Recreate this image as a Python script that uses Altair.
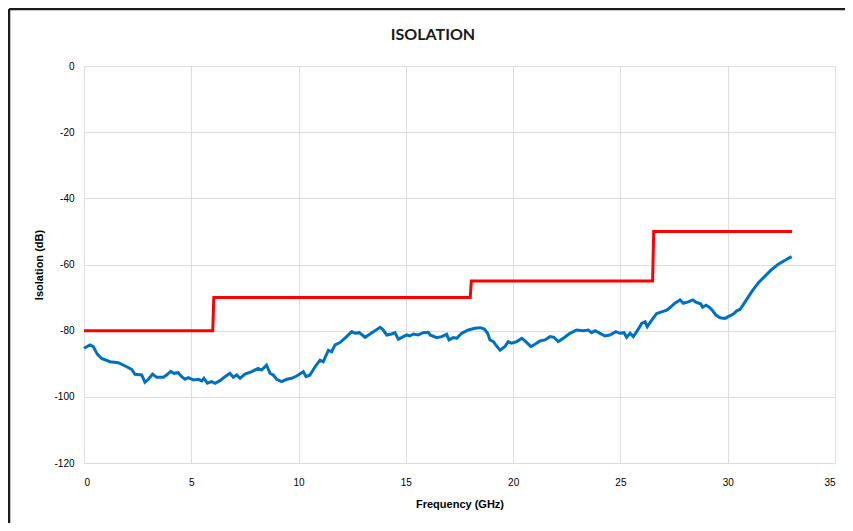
import altair as alt
import pandas as pd

# Measured isolation (blue trace)
freq = [0.00, 0.28, 0.43, 0.62, 0.82, 1.21, 1.60, 1.99, 2.22, 2.38, 2.69, 2.84, 3.00, 3.20, 3.39,
        3.70, 3.85, 4.04, 4.19, 4.39, 4.55, 4.71, 4.86, 5.09, 5.33, 5.49, 5.59, 5.75, 5.95, 6.11,
        6.34, 6.57, 6.80, 6.96, 7.12, 7.27, 7.50, 7.82, 8.12, 8.28, 8.51, 8.67, 8.82, 8.98, 9.21,
        9.45, 9.68, 9.91, 10.15, 10.22, 10.35, 10.53, 10.77, 11.00, 11.15, 11.39, 11.54, 11.70,
        11.93, 12.24, 12.48, 12.63, 12.83, 13.10, 13.33, 13.56, 13.80, 13.92, 14.11, 14.34, 14.49,
        14.65, 14.88, 15.04, 15.19, 15.35, 15.58, 15.81, 16.05, 16.13, 16.44, 16.67, 16.90, 17.01,
        17.21, 17.37, 17.60, 17.91, 18.22, 18.46, 18.66, 18.81, 18.92, 19.08, 19.19, 19.39, 19.62,
        19.77, 19.93, 20.17, 20.40, 20.55, 20.83, 21.02, 21.25, 21.48, 21.72, 21.90, 22.10, 22.34,
        22.65, 22.96, 23.27, 23.50, 23.66, 23.82, 24.05, 24.28, 24.51, 24.78, 24.98, 25.17, 25.29,
        25.45, 25.60, 25.79, 25.99, 26.15, 26.25, 26.46, 26.69, 26.92, 27.16, 27.31, 27.54, 27.78,
        27.93, 28.16, 28.37, 28.55, 28.74, 28.83, 28.99, 29.14, 29.30, 29.45, 29.64, 29.87, 30.07,
        30.26, 30.42, 30.57, 30.81, 31.12, 31.43, 31.74, 32.05, 32.36, 32.67, 32.98]
isolation = [-85.3, -84.3, -84.8, -87.1, -88.4, -89.4, -89.7, -90.9, -91.7, -93.2, -93.4, -95.6, -94.7,
             -93.1, -94.1, -94.1, -93.4, -92.3, -92.9, -92.7, -93.9, -94.7, -94.2, -94.9, -94.7, -95.2,
             -94.4, -95.9, -95.4, -95.9, -95.1, -93.9, -92.9, -94.1, -93.4, -94.4, -93.1, -92.4, -91.4,
             -91.9, -90.4, -92.9, -93.4, -94.7, -95.4, -94.7, -94.4, -93.7, -92.7, -92.4, -93.9, -93.4,
             -90.9, -88.9, -89.4, -85.9, -86.4, -84.3, -83.6, -81.8, -80.3, -80.8, -80.6, -82.0, -81.0,
             -80.0, -79.0, -79.6, -81.3, -81.0, -80.6, -82.6, -81.8, -81.3, -81.6, -81.0, -81.3, -80.6,
             -80.5, -81.3, -82.1, -81.8, -81.1, -82.8, -82.1, -82.3, -80.8, -79.8, -79.3, -79.1, -79.5,
             -80.8, -82.8, -83.3, -84.3, -85.9, -84.8, -83.3, -83.8, -83.3, -82.3, -83.1, -84.8, -84.1,
             -83.1, -82.8, -81.8, -82.0, -83.3, -82.3, -80.8, -79.8, -80.0, -79.8, -80.6, -80.0, -80.8,
             -81.6, -81.3, -80.3, -80.8, -80.6, -82.0, -80.8, -81.8, -80.0, -77.8, -77.3, -78.8, -76.8,
             -74.8, -74.3, -73.8, -73.0, -71.7, -70.7, -71.7, -71.3, -70.7, -71.5, -71.9, -72.9, -72.3,
             -72.9, -74.0, -75.3, -76.1, -76.3, -75.6, -75.0, -74.0, -73.6, -71.3, -68.2, -65.5, -63.5,
             -61.5, -59.9, -58.7, -57.6]

# Specification limit (red step line)
limit_freq = [0, 6.0, 6.05, 18.0, 18.05, 26.5, 26.55, 33.0]
limit_db = [-80, -80, -70, -70, -65, -65, -50, -50]

x_ticks = [0, 5, 10, 15, 20, 25, 30, 35]
y_ticks = [0, -20, -40, -60, -80, -100, -120]

title_text = ["ISOLATION"]

FONT = "Lato"
INK = "#1a1a1a"

meas = pd.DataFrame({"f": freq, "iso": isolation, "order": range(len(freq))})
lim = pd.DataFrame({"f": limit_freq, "iso": limit_db, "order": range(len(limit_freq))})

xs = alt.Scale(domain=[0, 35], nice=False, zero=False)
ys = alt.Scale(domain=[-120, 0], nice=False, zero=False)

x_axis = alt.Axis(values=x_ticks, title="Frequency (GHz)", grid=True, ticks=False, domain=False,
                  labelPadding=14, titlePadding=11, labelExpr="datum.value + ''")
y_axis = alt.Axis(values=y_ticks, title="Isolation (dB)", grid=True, ticks=False, domain=False,
                  labelPadding=10, titlePadding=9, labelExpr="datum.value + ''")

limit_line = alt.Chart(lim).mark_line(color="#FF0000", strokeWidth=3, strokeJoin="miter", clip=False).encode(
    x=alt.X("f:Q", scale=xs, axis=x_axis),
    y=alt.Y("iso:Q", scale=ys, axis=y_axis),
    order="order:Q",
)

meas_line = alt.Chart(meas).mark_line(color="#0070C0", strokeWidth=3, clip=False).encode(
    x=alt.X("f:Q", scale=xs),
    y=alt.Y("iso:Q", scale=ys),
    order="order:Q",
)

title_df = pd.DataFrame({"t": title_text})
title_mark = alt.Chart(title_df).mark_text(
    font=FONT, fontSize=16, fontWeight="bold", color=INK, align="center", baseline="middle"
).encode(text="t:N", x=alt.value(349), y=alt.value(-31))

frame_df = pd.DataFrame({"k": [0]})
frame_left = alt.Chart(frame_df).mark_rule(color=INK, strokeWidth=2.5, clip=False).encode(
    x=alt.value(-75), y=alt.value(-57), y2=alt.value(470)
)
frame_top = alt.Chart(frame_df).mark_rule(color=INK, strokeWidth=2.5, clip=False).encode(
    x=alt.value(-75), x2=alt.value(770), y=alt.value(-57)
)

chart = alt.layer(limit_line, meas_line, title_mark, frame_left, frame_top).properties(
    width=751,
    height=397,
    autosize=alt.AutoSizeParams(type="none"),
    padding={"left": 76, "top": 58, "right": 10, "bottom": 60},
).configure_view(stroke=None).configure_axis(
    gridColor="#d9d9d9", gridWidth=1, labelFont=FONT, titleFont=FONT, labelFontSize=11,
    titleFontSize=12, labelFontWeight="bold", titleFontWeight="bold", labelColor=INK,
    titleColor=INK
).configure(background="white")

chart.save("out.html", embed_options={"renderer": "svg", "actions": False})
